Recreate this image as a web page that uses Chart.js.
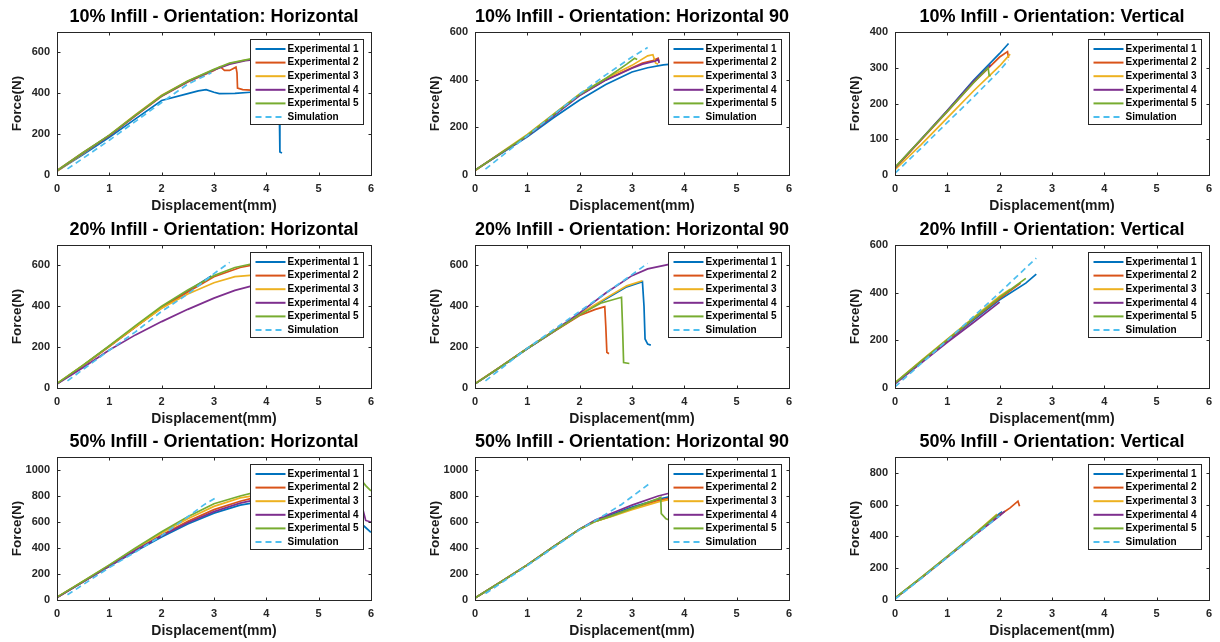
<!DOCTYPE html>
<html>
<head>
<meta charset="utf-8">
<script src="https://cdn.jsdelivr.net/npm/chart.js@4.4.1/dist/chart.umd.min.js"></script>
<style>
  html, body { margin: 0; padding: 0; background: #fff; }
  #grid { position: relative; width: 1220px; height: 642px; overflow: hidden; background: #fff; }
  #grid canvas { position: absolute; }
</style>
</head>
<body>
<div id="grid"></div>
<script>
// ─── DATA ─────────────────────────────────────────────────────────────────────
const PANEL_TITLES = [
  "10% Infill - Orientation: Horizontal", "10% Infill - Orientation: Horizontal 90", "10% Infill - Orientation: Vertical",
  "20% Infill - Orientation: Horizontal", "20% Infill - Orientation: Horizontal 90", "20% Infill - Orientation: Vertical",
  "50% Infill - Orientation: Horizontal", "50% Infill - Orientation: Horizontal 90", "50% Infill - Orientation: Vertical",
];
const SERIES_NAMES = ["Experimental 1", "Experimental 2", "Experimental 3", "Experimental 4", "Experimental 5", "Simulation"];
const X_TICKS = [0, 1, 2, 3, 4, 5, 6];
const Y_MAX = [700, 600, 400, 700, 700, 600, 1100, 1100, 900];
const Y_TICKS = [
  [0, 200, 400, 600], [0, 200, 400, 600], [0, 100, 200, 300, 400],
  [0, 200, 400, 600], [0, 200, 400, 600], [0, 200, 400, 600],
  [0, 200, 400, 600, 800, 1000], [0, 200, 400, 600, 800, 1000], [0, 200, 400, 600, 800],
];

// 10% infill, horizontal
const INF10_HOR_EXP1 = [[0,20],[0.5,100],[1,185],[1.5,275],[2,365],[2.5,398],[2.7,412],[2.85,418],[3.0,405],[3.1,398],[3.4,400],[3.7,405],[4.0,410],[4.24,412],[4.25,300],[4.26,113],[4.3,108]];
const INF10_HOR_EXP2 = [[0,22],[0.5,110],[1,192],[1.5,290],[2,385],[2.5,455],[3,512],[3.12,530],[3.2,512],[3.3,512],[3.42,528],[3.44,500],[3.45,425],[3.55,418],[3.7,415],[3.8,415]];
const INF10_HOR_EXP3 = [[0,18],[0.5,105],[1,195],[1.5,295],[2,390],[2.5,460],[3,515],[3.3,545],[3.6,562],[3.9,570]];
const INF10_HOR_EXP4 = [[0,20],[0.5,108],[1,193],[1.5,292],[2,387],[2.5,458],[3,514],[3.3,542],[3.6,560],[3.9,568]];
const INF10_HOR_EXP5 = [[0,22],[0.5,110],[1,195],[1.5,293],[2,388],[2.5,460],[3,517],[3.3,548],[3.7,568],[4.0,572]];
const INF10_HOR_SIM  = [[0.2,30],[1,170],[2,355],[2.5,445],[2.95,500]];

// 10% infill, horizontal 90
const INF10_H90_EXP1 = [[0,20],[0.5,90],[1,160],[1.5,240],[2,315],[2.5,380],[3,432],[3.3,450],[3.6,462],[3.9,468]];
const INF10_H90_EXP2 = [[0,20],[0.5,92],[1,165],[1.5,250],[2,335],[2.5,400],[3,450],[3.2,470],[3.4,480],[3.5,490],[3.52,475]];
const INF10_H90_EXP3 = [[0,18],[0.5,95],[1,170],[1.5,255],[2,340],[2.5,405],[3,460],[3.3,500],[3.4,505],[3.45,470],[3.5,465]];
const INF10_H90_EXP4 = [[0,20],[0.5,92],[1,163],[1.5,248],[2,333],[2.5,398],[3,448],[3.2,465],[3.45,478],[3.5,485],[3.52,470]];
const INF10_H90_EXP5 = [[0,20],[0.5,93],[1,167],[1.5,253],[2,338],[2.5,405],[2.9,465],[3.05,490],[3.1,485]];
const INF10_H90_SIM  = [[0.2,25],[1,165],[2,340],[2.5,420],[3,495],[3.3,535]];

// 10% infill, vertical
const INF10_VER_EXP1 = [[0,20],[0.5,100],[1,180],[1.5,265],[2,340],[2.17,368]];
const INF10_VER_EXP2 = [[0,20],[0.5,98],[1,177],[1.5,258],[2,330],[2.15,345],[2.17,328]];
const INF10_VER_EXP3 = [[0,15],[0.5,85],[1,160],[1.5,235],[2,305],[2.2,338]];
const INF10_VER_EXP4 = [[0,20],[0.5,100],[1,180],[1.5,262],[1.83,308]];
const INF10_VER_EXP5 = [[0,22],[0.5,100],[1,178],[1.5,258],[1.78,300],[1.8,278],[1.83,278]];
const INF10_VER_SIM  = [[0,5],[0.5,75],[1,147],[1.5,218],[2,292],[2.17,322]];

// 20% infill, horizontal
const INF20_HOR_EXP1 = [[0,20],[0.5,110],[1,205],[1.5,300],[2,395],[2.5,475],[2.95,548]];
const INF20_HOR_EXP2 = [[0,20],[0.5,110],[1,203],[1.5,298],[2,392],[2.5,470],[3,545],[3.5,590],[3.8,605]];
const INF20_HOR_EXP3 = [[0,22],[0.5,112],[1,205],[1.5,300],[2,390],[2.5,460],[3,515],[3.4,545],[3.75,553]];
const INF20_HOR_EXP4 = [[0,20],[0.5,100],[1,186],[1.5,260],[2,325],[2.5,385],[3,440],[3.4,478],[3.8,505]];
const INF20_HOR_EXP5 = [[0,22],[0.5,112],[1,207],[1.5,305],[2,400],[2.5,480],[3,550],[3.4,590],[3.8,612]];
const INF20_HOR_SIM  = [[0.2,35],[1,185],[1.5,275],[2,375],[2.5,460],[3,560],[3.3,615]];

// 20% infill, horizontal 90
const INF20_H90_EXP1 = [[0,20],[0.5,105],[1,192],[1.5,275],[2,360],[2.5,435],[2.9,495],[3.2,520],[3.23,400],[3.25,240],[3.3,215],[3.36,210]];
const INF20_H90_EXP2 = [[0,20],[0.5,105],[1,193],[1.5,275],[2,355],[2.3,385],[2.48,398],[2.5,300],[2.52,175],[2.56,168]];
const INF20_H90_EXP3 = [[0,22],[0.5,107],[1,195],[1.5,278],[2,362],[2.5,440],[2.9,500],[3.2,525]];
const INF20_H90_EXP4 = [[0,20],[0.5,105],[1,193],[1.5,278],[2,368],[2.5,465],[3,550],[3.3,583],[3.8,610]];
const INF20_H90_EXP5 = [[0,20],[0.5,105],[1,193],[1.5,277],[2,358],[2.4,415],[2.8,444],[2.82,300],[2.84,125],[2.95,120]];
const INF20_H90_SIM  = [[0.2,35],[1,195],[2,375],[2.5,465],[3,555],[3.3,610]];

// 20% infill, vertical
const INF20_VER_EXP1 = [[0,20],[0.5,110],[1,198],[1.5,285],[2,370],[2.5,440],[2.7,478]];
const INF20_VER_EXP2 = [[0,20],[0.5,112],[1,200],[1.5,290],[2,375],[2.4,440]];
const INF20_VER_EXP3 = [[0,22],[0.5,115],[1,205],[1.5,295],[2,385],[2.2,415]];
const INF20_VER_EXP4 = [[0,18],[0.5,105],[1,192],[1.5,275],[2,360]];
const INF20_VER_EXP5 = [[0,22],[0.5,113],[1,203],[1.5,292],[2,380],[2.5,460]];
const INF20_VER_SIM  = [[0,5],[1,200],[2,400],[2.7,545]];

// 50% infill, horizontal
const INF50_HOR_EXP1 = [[0,20],[0.5,140],[1,260],[1.5,375],[2,485],[2.5,585],[3,668],[3.5,730],[4,765],[4.5,780],[5,770],[5.5,700],[5.85,575],[6,520]];
const INF50_HOR_EXP2 = [[0,20],[0.5,140],[1,262],[1.5,385],[2,500],[2.5,605],[3,695],[3.5,760],[3.7,780],[4.2,800]];
const INF50_HOR_EXP3 = [[0,22],[0.5,145],[1,268],[1.5,395],[2,515],[2.5,625],[3,720],[3.5,785],[3.8,805],[4.2,830]];
const INF50_HOR_EXP4 = [[0,20],[0.5,140],[1,262],[1.5,383],[2,495],[2.5,595],[3,680],[3.5,745],[4,790],[5,810],[5.6,760],[5.85,690],[5.9,612],[6,600]];
const INF50_HOR_EXP5 = [[0,22],[0.5,145],[1,270],[1.5,400],[2,525],[2.5,640],[3,740],[3.5,800],[3.8,830],[4.5,880],[5.2,910],[5.82,920],[5.9,880],[6,840]];
const INF50_HOR_SIM  = [[0.2,40],[1,250],[1.5,370],[2,495],[2.5,640],[2.8,730],[3.05,790]];

// 50% infill, horizontal 90
const INF50_H90_EXP1 = [[0,15],[0.5,140],[1,270],[1.5,410],[2,545],[2.3,610],[2.6,655],[3,715],[3.5,775],[3.9,810]];
const INF50_H90_EXP2 = [[0,15],[0.5,140],[1,270],[1.5,410],[2,545],[2.3,605],[2.6,645],[3,705],[3.5,765],[3.9,800]];
const INF50_H90_EXP3 = [[0,15],[0.5,142],[1,272],[1.5,410],[2,545],[2.3,605],[2.6,640],[3,695],[3.5,755],[3.9,790]];
const INF50_H90_EXP4 = [[0,15],[0.5,140],[1,270],[1.5,410],[2,545],[2.3,615],[2.6,665],[3,730],[3.5,800],[3.9,840]];
const INF50_H90_EXP5 = [[0,15],[0.5,140],[1,270],[1.5,410],[2,545],[2.3,605],[2.6,645],[3,705],[3.5,780],[3.55,790],[3.56,665],[3.65,625],[3.75,610]];
const INF50_H90_SIM  = [[0.2,50],[1,265],[2,540],[2.5,660],[2.8,735],[3.35,900]];

// 50% infill, vertical
const INF50_VER_EXP1 = [[0,10],[0.5,140],[1,275],[1.5,410],[2,545],[2.05,555]];
const INF50_VER_EXP2 = [[0,10],[0.5,138],[1,270],[1.5,405],[2,535],[2.2,580],[2.35,622],[2.38,590]];
const INF50_VER_EXP3 = [[0,12],[0.5,142],[1,275],[1.5,410],[1.95,540]];
const INF50_VER_EXP4 = [[0,10],[0.5,138],[1,270],[1.5,403],[2,530],[2.1,560]];
const INF50_VER_EXP5 = [[0,12],[0.5,140],[1,273],[1.5,408],[1.95,535]];
const INF50_VER_SIM  = [[0,5],[0.5,135],[1,268],[1.5,400],[2,530]];

const PANEL_SERIES = [
  [INF10_HOR_EXP1, INF10_HOR_EXP2, INF10_HOR_EXP3, INF10_HOR_EXP4, INF10_HOR_EXP5, INF10_HOR_SIM],
  [INF10_H90_EXP1, INF10_H90_EXP2, INF10_H90_EXP3, INF10_H90_EXP4, INF10_H90_EXP5, INF10_H90_SIM],
  [INF10_VER_EXP1, INF10_VER_EXP2, INF10_VER_EXP3, INF10_VER_EXP4, INF10_VER_EXP5, INF10_VER_SIM],
  [INF20_HOR_EXP1, INF20_HOR_EXP2, INF20_HOR_EXP3, INF20_HOR_EXP4, INF20_HOR_EXP5, INF20_HOR_SIM],
  [INF20_H90_EXP1, INF20_H90_EXP2, INF20_H90_EXP3, INF20_H90_EXP4, INF20_H90_EXP5, INF20_H90_SIM],
  [INF20_VER_EXP1, INF20_VER_EXP2, INF20_VER_EXP3, INF20_VER_EXP4, INF20_VER_EXP5, INF20_VER_SIM],
  [INF50_HOR_EXP1, INF50_HOR_EXP2, INF50_HOR_EXP3, INF50_HOR_EXP4, INF50_HOR_EXP5, INF50_HOR_SIM],
  [INF50_H90_EXP1, INF50_H90_EXP2, INF50_H90_EXP3, INF50_H90_EXP4, INF50_H90_EXP5, INF50_H90_SIM],
  [INF50_VER_EXP1, INF50_VER_EXP2, INF50_VER_EXP3, INF50_VER_EXP4, INF50_VER_EXP5, INF50_VER_SIM],
];

// ─── STYLE ────────────────────────────────────────────────────────────────────
const FONT = '"Liberation Sans", Arial, Helvetica, sans-serif';
const SERIES_COLORS = ["#0072BD", "#D95319", "#EDB120", "#7E2F8E", "#77AC30", "#4DBEEE"];
const AXIS_COLOR = "#262626";
const COL_LEFT = [9, 427, 847];
const ROW_TOP = [0, 213, 425];
const CANVAS_W = 372, CANVAS_H = 215;

// ─── PLUGINS ──────────────────────────────────────────────────────────────────
// box around the axes with inward tick marks on all four sides (MATLAB look)
const matlabAxes = {
  id: "matlabAxes",
  afterDatasetsDraw(chart) {
    const { ctx, chartArea: a, scales: { x, y } } = chart;
    const L = Math.round(a.left) + 0.5, R = Math.round(a.right) + 0.5;
    const T = Math.round(a.top) + 0.5, B = Math.round(a.bottom) + 0.5;
    ctx.save();
    ctx.strokeStyle = AXIS_COLOR;
    ctx.lineWidth = 1;
    ctx.beginPath();
    x.ticks.forEach(t => {
      const px = Math.round(x.getPixelForValue(t.value)) + 0.5;
      ctx.moveTo(px, B); ctx.lineTo(px, B - 3);
      ctx.moveTo(px, T); ctx.lineTo(px, T + 3);
    });
    y.ticks.forEach(t => {
      const py = Math.round(y.getPixelForValue(t.value)) + 0.5;
      ctx.moveTo(L, py); ctx.lineTo(L + 3, py);
      ctx.moveTo(R, py); ctx.lineTo(R - 3, py);
    });
    ctx.stroke();
    ctx.strokeRect(L, T, R - L, B - T);
    ctx.restore();
  }
};

// legend box inside the plot, top right
const boxLegend = {
  id: "boxLegend",
  afterDraw(chart) {
    const { ctx, chartArea: a } = chart;
    const w = 113, h = 85;
    const x0 = Math.round(a.right - 8 - w) + 0.5, y0 = Math.round(a.top + 7) + 0.5;
    ctx.save();
    ctx.fillStyle = "#fff";
    ctx.fillRect(x0, y0, w, h);
    ctx.strokeStyle = AXIS_COLOR;
    ctx.lineWidth = 1;
    ctx.strokeRect(x0, y0, w, h);
    ctx.font = "bold 10px " + FONT;
    ctx.textBaseline = "middle";
    chart.data.datasets.forEach((ds, i) => {
      const yy = y0 + 9.5 + i * 13.6;
      ctx.strokeStyle = ds.borderColor;
      ctx.lineWidth = 2;
      ctx.setLineDash(ds.borderDash || []);
      ctx.beginPath();
      ctx.moveTo(x0 + 5, yy);
      ctx.lineTo(x0 + 35, yy);
      ctx.stroke();
      ctx.setLineDash([]);
      ctx.fillStyle = "#000";
      ctx.fillText(ds.label, x0 + 37, yy);
    });
    ctx.restore();
  }
};

// ─── CHARTS ───────────────────────────────────────────────────────────────────
const grid = document.getElementById("grid");

function makePanel(idx) {
  const canvas = document.createElement("canvas");
  canvas.width = CANVAS_W;
  canvas.height = CANVAS_H;
  canvas.style.width = CANVAS_W + "px";
  canvas.style.height = CANVAS_H + "px";
  canvas.style.left = COL_LEFT[idx % 3] + "px";
  canvas.style.top = ROW_TOP[Math.floor(idx / 3)] + "px";
  grid.appendChild(canvas);

  const tickFont = { family: FONT, size: 11, weight: "bold" };

  new Chart(canvas, {
    type: "scatter",
    data: {
      datasets: PANEL_SERIES[idx].map((pts, i) => ({
        label: SERIES_NAMES[i],
        data: pts.map(([x, y]) => ({ x, y })),
        showLine: true,
        borderColor: SERIES_COLORS[i],
        backgroundColor: SERIES_COLORS[i],
        borderWidth: 1.7,
        borderDash: i === 5 ? [6, 4] : [],
        pointRadius: 0,
        tension: 0,
        order: 6 - i,
      }))
    },
    options: {
      responsive: false,
      animation: false,
      devicePixelRatio: 1,
      layout: { padding: { top: 0, right: 6, bottom: 0, left: 0 } },
      plugins: {
        legend: { display: false },
        tooltip: { enabled: false },
        title: {
          display: true,
          text: PANEL_TITLES[idx],
          fullSize: false,
          color: "#000",
          font: { family: FONT, size: 18, weight: "bold" },
          padding: { top: 6, bottom: 4.4 },
        },
      },
      scales: {
        x: {
          type: "linear",
          min: 0, max: 6,
          grid: { display: false, drawTicks: false },
          border: { display: false },
          afterBuildTicks: s => { s.ticks = X_TICKS.map(v => ({ value: v })); },
          afterFit: s => { s.height = 40; },
          ticks: { color: AXIS_COLOR, font: tickFont, padding: 7, maxRotation: 0, autoSkip: false, callback: v => String(v) },
          title: {
            display: true, text: "Displacement(mm)", color: "#1a1a1a",
            font: { family: FONT, size: 14, weight: "bold" }, padding: { top: 0, bottom: 0.5 },
          },
        },
        y: {
          type: "linear",
          min: 0, max: Y_MAX[idx],
          grid: { display: false, drawTicks: false },
          border: { display: false },
          afterBuildTicks: s => { s.ticks = Y_TICKS[idx].map(v => ({ value: v })); },
          afterFit: s => { s.width = 48; },
          ticks: { color: AXIS_COLOR, font: tickFont, padding: 7, autoSkip: false, callback: v => String(v) },
          title: {
            display: true, text: "Force(N)", color: "#1a1a1a",
            font: { family: FONT, size: 13.5, weight: "bold" }, padding: { top: 0, bottom: 0 },
          },
        },
      },
    },
    plugins: [matlabAxes, boxLegend],
  });
}

for (let i = 0; i < 9; i++) makePanel(i);
</script>
</body>
</html>
